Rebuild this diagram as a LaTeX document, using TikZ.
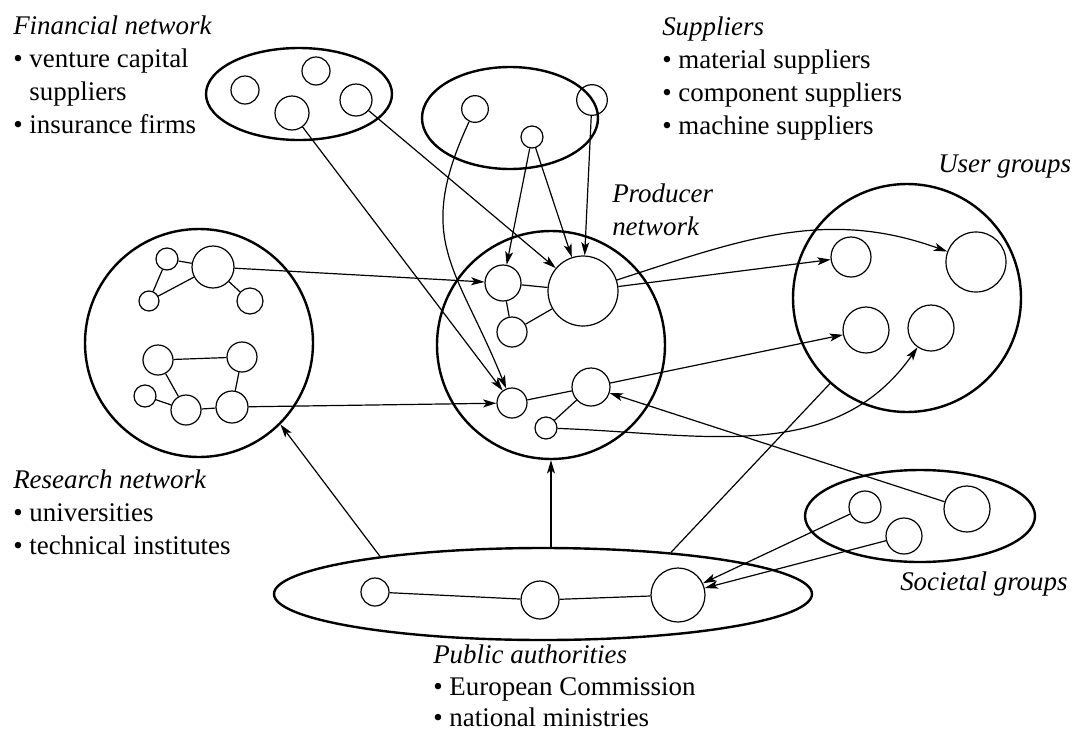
\documentclass[tikz,border=0pt]{standalone}
\usepackage{fontspec}
\setmainfont{Liberation Serif}
\usetikzlibrary{arrows.meta, shapes.geometric}

\begin{document}
\begin{tikzpicture}[
    x=0.75pt, y=0.75pt,
    group/.style={draw, circle, line width=1.8pt, inner sep=0pt, minimum size=171pt},
    oval/.style={draw, ellipse, line width=1.8pt, inner sep=0pt},
    actor/.style={draw, circle, line width=0.9pt, inner sep=0pt, minimum size=#1},
    link/.style={line width=0.9pt},
    flow/.style={line width=0.9pt, ->},
    txt/.style={align=left, anchor=north west, inner sep=0pt, font=\fontsize{20.2}{24.6}\selectfont},
    >={Stealth[length=10pt, width=6pt, inset=2.5pt]}
  ]
    \useasboundingbox (0,0) rectangle (1075,-736);

    % financial network
    \node[oval, minimum width=139.5pt, minimum height=69pt] (fin) at (299,-94) {};
    \node[actor=21pt] (fa) at (245,-90) {};
    \node[actor=21pt] (fb) at (316,-71) {};
    \node[actor=25.5pt] (fc) at (292,-113) {};
    \node[actor=24pt] (fd) at (356,-100) {};

    % suppliers
    \node[oval, minimum width=132pt, minimum height=76.5pt] (sup) at (510,-118) {};
    \node[actor=20pt] (sa) at (475,-109) {};
    \node[actor=16.5pt] (sb) at (532,-137) {};
    \node[actor=23pt] (sc) at (592,-100) {};

    % producer network
    \node[group] (prod) at (551,-345) {};
    \node[actor=27pt] (pa) at (503,-283) {};
    \node[actor=52.5pt] (pb) at (583,-291) {};
    \node[actor=22.5pt] (pc) at (512,-332) {};
    \node[actor=22.5pt] (pd) at (512,-403) {};
    \node[actor=28.5pt] (pe) at (591,-387) {};
    \node[actor=16.5pt] (pf) at (546,-428) {};

    % research network
    \node[group] (res) at (199,-343) {};
    \node[actor=16.5pt] (ra) at (167,-259) {};
    \node[actor=31.5pt] (rb) at (213,-267) {};
    \node[actor=15pt] (rc) at (149,-301) {};
    \node[actor=19.5pt] (rd) at (250,-301) {};
    \node[actor=22.5pt] (re) at (158,-360) {};
    \node[actor=22.5pt] (rf) at (242,-357) {};
    \node[actor=16.5pt] (rg) at (145,-396) {};
    \node[actor=22.5pt] (rh) at (186,-410) {};
    \node[actor=24pt] (ri) at (232,-407) {};

    % user groups
    \node[group] (usr) at (907,-298) {};
    \node[actor=30pt] (ua) at (851,-257) {};
    \node[actor=45pt] (ub) at (976,-262) {};
    \node[actor=34.5pt] (uc) at (866,-330) {};
    \node[actor=34.5pt] (ud) at (931,-328) {};

    % societal groups
    \node[oval, minimum width=172.5pt, minimum height=69pt] (soc) at (920,-516) {};
    \node[actor=24pt] (ga) at (865,-507) {};
    \node[actor=27pt] (gb) at (904,-536) {};
    \node[actor=34.5pt] (gc) at (967,-509) {};

    % public authorities
    \node[oval, minimum width=403.5pt, minimum height=69pt] (pub) at (543,-594) {};
    \node[actor=21pt] (qa) at (375,-592) {};
    \node[actor=28.5pt] (qb) at (540,-600) {};
    \node[actor=40.5pt] (qc) at (678,-595) {};

    % ties inside the networks
    \draw[link] (ra) -- (rb);
    \draw[link] (ra) -- (rc);
    \draw[link] (rc) -- (rb);
    \draw[link] (rb) -- (rd);
    \draw[link] (re) -- (rf);
    \draw[link] (re) -- (rh);
    \draw[link] (rg) -- (rh);
    \draw[link] (rh) -- (ri);
    \draw[link] (ri) -- (rf);
    \draw[link] (pa) -- (pb);
    \draw[link] (pa) -- (pc);
    \draw[link] (pc) -- (pb);
    \draw[link] (pd) -- (pe);
    \draw[link] (pe) -- (pf);
    \draw[link] (qa) -- (qb);
    \draw[link] (qb) -- (qc);

    % flows between the networks
    \draw[flow] (fc) -- (pd);
    \draw[flow] (fd) -- (pb);
    \draw[flow] (sa) to[out=245, in=112, looseness=1.25] (pd);
    \draw[flow] (sb) -- (pa);
    \draw[flow] (sb) -- (pb);
    \draw[flow] (sc) -- (pb);
    \draw[flow] (rb) -- (pa);
    \draw[flow] (ri) -- (pd);
    \draw[flow] (pb) -- (ua);
    \draw[flow] (pb) to[out=18, in=160] (ub);
    \draw[flow] (pe) -- (uc);
    \draw[flow] (pf) to[out=-2, in=235] (ud);
    \draw[flow] (gc) -- (pe);
    \draw[flow] (ga) -- (qc);
    \draw[flow] (gb) -- (qc);
    \draw[flow] (pub.167) -- (res.-45);
    \draw[flow] (pub.north -| prod.south) -- (prod.south);
    \draw[link] (pub.18) -- (usr.228);

    % captions
    \node[txt] (finText) at (13,-16) {\textit{Financial network}\\
      \textbullet\ venture capital\\
      \phantom{\textbullet\ }suppliers\\
      \textbullet\ insurance firms};
    \node[txt] (supText) at (662,-17) {\textit{Suppliers}\\
      \textbullet\ material suppliers\\
      \textbullet\ component suppliers\\
      \textbullet\ machine suppliers};
    \node[txt] (prodText) at (612,-184) {\textit{Producer}\\\textit{network}};
    \node[txt] (usrText) at (938,-155) {\textit{User groups}};
    \node[txt] (resText) at (13,-470) {\textit{Research network}\\
      \textbullet\ universities\\
      \textbullet\ technical institutes};
    \node[txt] (socText) at (900,-572) {\textit{Societal groups}};
    \node[txt, font=\fontsize{20.2}{23.4}\selectfont] (pubText) at (433,-645) {\textit{Public authorities}\\
      \textbullet\ European Commission\\
      \textbullet\ national ministries};
\end{tikzpicture}
\end{document}
